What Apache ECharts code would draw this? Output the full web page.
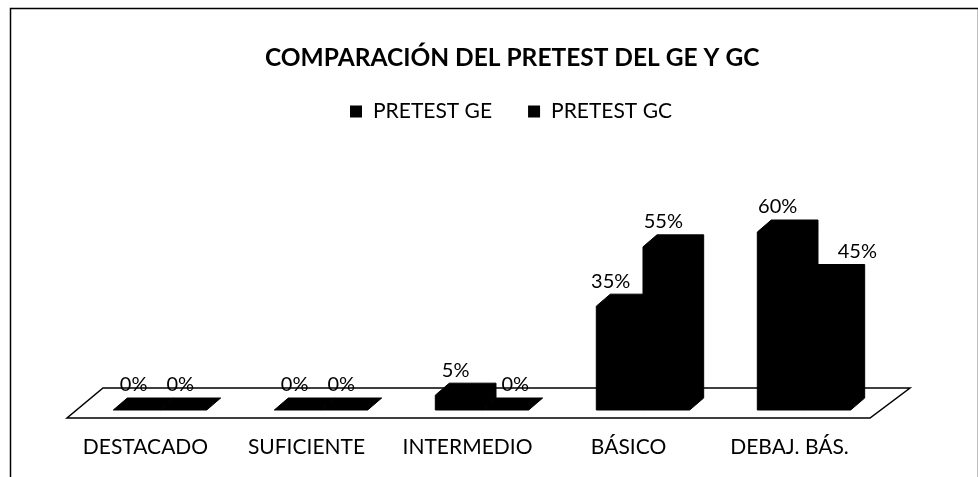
<!DOCTYPE html>
<html>
<head>
<meta charset="utf-8">
<script src="https://cdn.jsdelivr.net/npm/echarts@6/dist/echarts.min.js"></script>
<style>
html,body{margin:0;padding:0;background:#fff;}
#chart{width:978px;height:477px;}
</style>
</head>
<body>
<div id="chart"></div>
<script>
var categories = ['DESTACADO', 'SUFICIENTE', 'INTERMEDIO', 'BÁSICO', 'DEBAJ. BÁS.'];
var pretestGE = [0, 0, 5, 35, 60];
var pretestGC = [0, 0, 0, 55, 45];
var seriesNames = ['PRETEST GE', 'PRETEST GC'];
var titleText = 'COMPARACIÓN DEL PRETEST DEL GE Y GC';

var FONT = 'Lato';
var DX = 14, DY = -12;

function barRenderer(seriesIdx) {
  return function (params, api) {
    var idx = api.value(0);
    var val = api.value(1);
    var top = api.coord([idx, val]);
    var base = api.coord([idx, 0]);
    var bw = api.size([1, 0])[0];
    var w = bw * 0.29;
    var x0 = top[0] - bw * 0.2 + seriesIdx * w;
    var x1 = x0 + w;
    var yb = base[1];
    var yt = top[1];
    var pts = [
      [x0, yb], [x0, yt], [x0 + DX, yt + DY], [x1 + DX, yt + DY],
      [x1 + DX, yb + DY], [x1, yb]
    ];
    var ge = pretestGE[idx], gc = pretestGC[idx];
    var lx = (x0 + x1) / 2 - 3;
    if (seriesIdx === 0 && gc > ge) lx = (x0 + x1) / 2 - 9;
    if (seriesIdx === 1 && ge > gc) lx = (x0 + x1) / 2 + (ge - gc >= 10 ? 30 : 10);
    return {
      type: 'group',
      children: [
        { type: 'polygon', shape: { points: pts }, style: { fill: '#000', stroke: '#000', lineWidth: 1 } },
        { type: 'text', x: lx, y: yt + DY - 3,
          style: { text: val + '%', fill: '#000', font: '20px ' + FONT, textAlign: 'center', textVerticalAlign: 'bottom' } }
      ]
    };
  };
}

function floorRenderer(params, api) {
  var cs = params.coordSys;
  var L = cs.x, R = cs.x + cs.width, B = cs.y + cs.height;
  return {
    type: 'polygon',
    shape: { points: [[L + 2, B + 8], [R, B + 8], [R + 40, B - 22], [L + 38, B - 22]] },
    style: { fill: '#fff', stroke: '#000', lineWidth: 1.5 }
  };
}

var chart = echarts.init(document.getElementById('chart'), null, { renderer: 'canvas' });
chart.setOption({
  backgroundColor: '#fff',
  animation: false,
  title: {
    text: titleText, left: 260, top: 41,
    textStyle: { fontFamily: FONT, fontWeight: 'bold', fontSize: 24.5, color: '#000' }
  },
  legend: {
    top: 96, left: 345, itemWidth: 12, itemHeight: 12, itemGap: 36, icon: 'rect',
    data: seriesNames,
    textStyle: { fontFamily: FONT, fontSize: 21, color: '#000', padding: [0, 0, 0, 6] }
  },
  graphic: [{
    type: 'rect', left: 8, top: 6, silent: true,
    shape: { width: 968, height: 490 },
    style: { fill: 'none', stroke: '#000', lineWidth: 1.5 }
  }],
  grid: { left: 65, right: 108, top: 232, bottom: 67 },
  xAxis: {
    type: 'category', data: categories,
    axisLine: { show: false }, axisTick: { show: false },
    axisLabel: { interval: 0, margin: 27, fontFamily: FONT, fontSize: 21, color: '#000' }
  },
  yAxis: { type: 'value', min: 0, max: 60, show: false, splitLine: { show: false } },
  series: [
    { type: 'custom', name: '_floor', z: 1, silent: true, renderItem: floorRenderer, data: [[0, 0]], legendHoverLink: false },
    { type: 'custom', name: seriesNames[0], z: 2, color: '#000', itemStyle: { color: '#000' },
      renderItem: barRenderer(0), data: pretestGE.map(function (v, i) { return [i, v]; }) },
    { type: 'custom', name: seriesNames[1], z: 3, color: '#000', itemStyle: { color: '#000' },
      renderItem: barRenderer(1), data: pretestGC.map(function (v, i) { return [i, v]; }) }
  ]
});
</script>
</body>
</html>
